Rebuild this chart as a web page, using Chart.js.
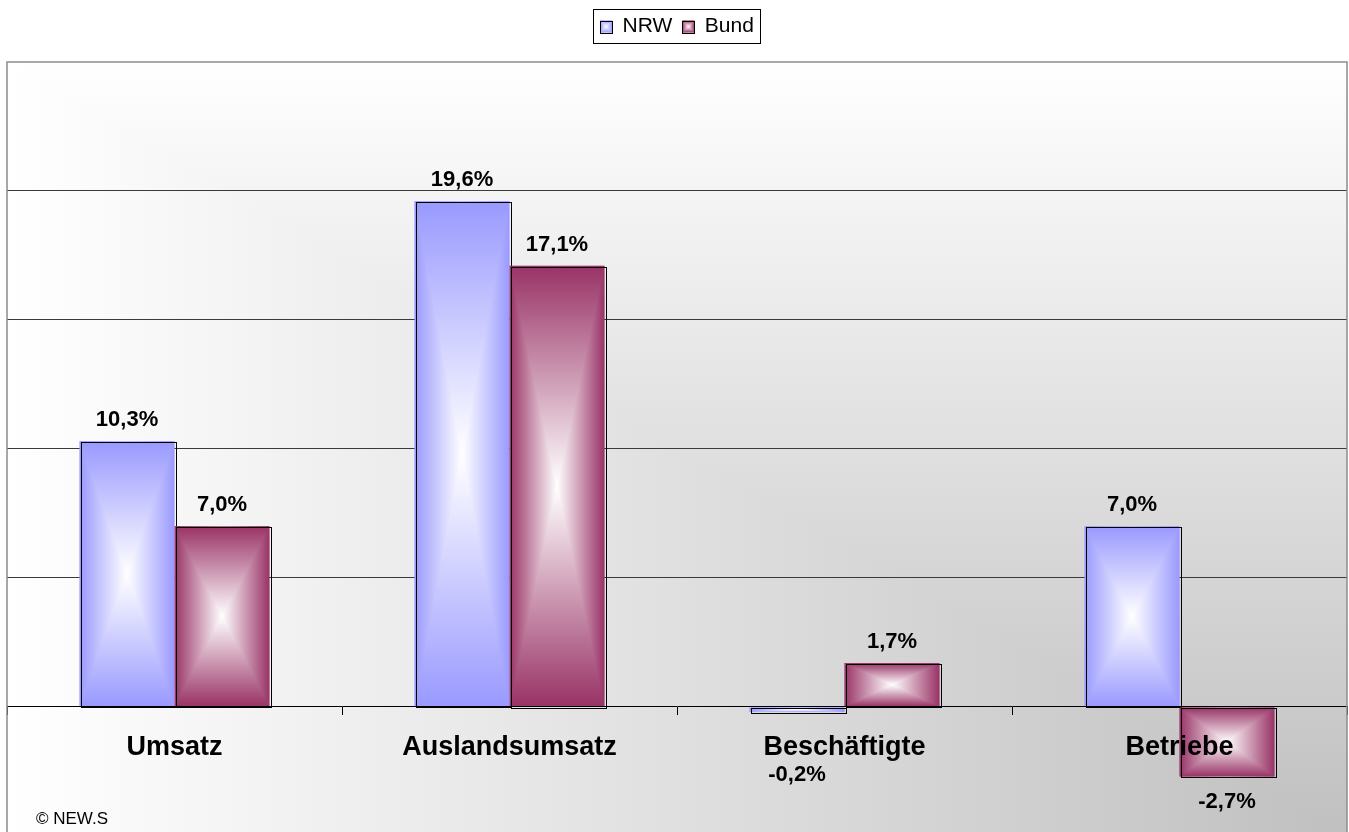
<!DOCTYPE html>
<html><head><meta charset="utf-8">
<script src="https://cdn.jsdelivr.net/npm/chart.js@4.4.1/dist/chart.umd.min.js"></script>
<style>html,body{margin:0;padding:0;background:#fff;overflow:hidden}#wrap{width:1349px;height:832px;position:relative}</style>
</head><body><div id="wrap"><canvas id="c"></canvas></div>
<script>
const categories = ['Umsatz', 'Auslandsumsatz', 'Beschäftigte', 'Betriebe'];
const seriesNames = ['NRW', 'Bund'];
const nrwValues = [10.3, 19.6, -0.2, 7.0];
const bundValues = [7.0, 17.1, 1.7, -2.7];
const yTickValues = [0, 5, 10, 15, 20, 25];
const sourceNote = '© NEW.S';

const seriesColors = ['#9999ff', '#993366'];
const FONT = 'Arial, "Liberation Sans", Helvetica, sans-serif';

function fmt(v) { return v.toFixed(1).replace('.', ',') + '%'; }

function fillTri(ctx, pts, g) {
  ctx.beginPath();
  ctx.moveTo(pts[0][0], pts[0][1]);
  ctx.lineTo(pts[1][0], pts[1][1]);
  ctx.lineTo(pts[2][0], pts[2][1]);
  ctx.closePath();
  ctx.fillStyle = g;
  ctx.fill();
}

function rectGradient(ctx, L, T, R, B, edge, center) {
  const cx = (L + R) / 2, cy = (T + B) / 2;
  ctx.save();
  ctx.beginPath(); ctx.rect(L, T, R - L, B - T); ctx.clip();
  // base: horizontal edge-center-edge
  let g = ctx.createLinearGradient(L, 0, R, 0);
  g.addColorStop(0, edge); g.addColorStop(0.5, center); g.addColorStop(1, edge);
  ctx.fillStyle = g; ctx.fillRect(L, T, R - L, B - T);
  // top and bottom triangles: vertical
  g = ctx.createLinearGradient(0, T, 0, B);
  g.addColorStop(0, edge); g.addColorStop(0.5, center); g.addColorStop(1, edge);
  fillTri(ctx, [[L, T], [R, T], [cx, cy]], g);
  fillTri(ctx, [[L, B], [R, B], [cx, cy]], g);
  ctx.restore();
}

const deco = {
  id: 'deco',
  beforeInit(chart) {
    const lg = chart.legend;
    if (lg) {
      const orig = lg.fit.bind(lg);
      lg.fit = function () { orig(); this.height += 15; };
    }
  },
  beforeDraw(chart) {
    const {ctx, chartArea: a} = chart;
    const L = a.left, T = a.top, R = a.right, B = a.bottom + 4;
    ctx.save();
    let g = ctx.createLinearGradient(L, 0, R, 0);
    g.addColorStop(0, '#ffffff'); g.addColorStop(1, '#c0c0c0');
    ctx.fillStyle = g; ctx.fillRect(L, T, R - L, B - T);
    g = ctx.createLinearGradient(0, T, 0, B);
    g.addColorStop(0, '#ffffff'); g.addColorStop(1, '#c0c0c0');
    fillTri(ctx, [[L, T], [R, T], [R, B]], g);
    ctx.restore();
  },
  afterDatasetsDraw(chart) {
    const ctx = chart.ctx;
    chart.data.datasets.forEach((ds, di) => {
      const meta = chart.getDatasetMeta(di);
      meta.data.forEach(el => {
        const p = el.getProps(['x', 'y', 'base', 'width'], true);
        const L = p.x - p.width / 2, R = p.x + p.width / 2;
        const T = Math.min(p.y, p.base), B = Math.max(p.y, p.base);
        rectGradient(ctx, L, T, R, B, seriesColors[di], '#ffffff');
        ctx.save();
        ctx.strokeStyle = '#000'; ctx.lineWidth = 1;
        ctx.strokeRect(Math.round(L) + 1.5, Math.round(T) + 1.5, Math.round(R - L), Math.round(B - T));
        ctx.restore();
      });
    });
  },
  afterDraw(chart) {
    const {ctx, chartArea: a} = chart;
    const yScale = chart.scales.y;
    const zeroY = yScale.getPixelForValue(0);
    ctx.save();
    // plot border
    ctx.strokeStyle = '#8c8c8c'; ctx.lineWidth = 1.5;
    ctx.strokeRect(a.left, a.top, a.right - a.left, a.bottom - a.top + 4);
    // data labels
    ctx.fillStyle = '#000';
    ctx.font = 'bold 22px ' + FONT;
    ctx.textAlign = 'center';
    chart.data.datasets.forEach((ds, di) => {
      const meta = chart.getDatasetMeta(di);
      meta.data.forEach((el, i) => {
        const v = ds.data[i];
        const p = el.getProps(['x', 'y', 'base'], true);
        if (v >= 0) {
          ctx.textBaseline = 'alphabetic';
          ctx.fillText(fmt(v), p.x, p.y - 15);
        } else {
          ctx.textBaseline = 'top';
          const top = Math.max(p.y + 14, zeroY + 57);
          ctx.fillText(fmt(v), p.x, top);
        }
      });
    });
    // legend frame + boxes
    const lg = chart.legend;
    if (lg && lg.legendHitBoxes && lg.legendHitBoxes.length) {
      const hb = lg.legendHitBoxes;
      const boxW = 12, boxH = 12, itemH = 21;
      hb.forEach((h, i) => {
        const bx = h.left, by = h.top + (itemH - boxH) / 2;
        rectGradient(ctx, bx, by, bx + boxW, by + boxH, seriesColors[i], '#ffffff');
        ctx.strokeStyle = '#000'; ctx.lineWidth = 1;
        ctx.strokeRect(Math.round(bx) + 0.5, Math.round(by) + 0.5, boxW, boxH);
      });
      const l = Math.min(...hb.map(h => h.left)) - 7;
      const r = Math.max(...hb.map(h => h.left + h.width)) + 6;
      const t = hb[0].top - 7, b = hb[0].top + hb[0].height + 6;
      ctx.strokeStyle = '#000'; ctx.lineWidth = 1;
      ctx.strokeRect(Math.round(l) + 0.5, Math.round(t) + 0.5, Math.round(r - l), Math.round(b - t));
    }
    // source note
    ctx.font = '17px ' + FONT;
    ctx.textAlign = 'left'; ctx.textBaseline = 'alphabetic';
    ctx.fillText(sourceNote, 36, 824);
    ctx.restore();
  }
};

new Chart(document.getElementById('c'), {
  type: 'bar',
  data: {
    labels: categories,
    datasets: [
      {label: seriesNames[0], data: nrwValues, backgroundColor: seriesColors[0], borderWidth: 0},
      {label: seriesNames[1], data: bundValues, backgroundColor: seriesColors[1], borderWidth: 0}
    ]
  },
  options: {
    responsive: true,
    maintainAspectRatio: false,
    animation: false,
    events: [],
    categoryPercentage: 0.567,
    barPercentage: 1.0,
    layout: {padding: {left: 7, right: 2, top: 6, bottom: 0}},
    plugins: {
      tooltip: {enabled: false},
      legend: {
        display: true,
        position: 'top',
        labels: {
          color: '#000',
          font: {family: FONT, size: 21},
          boxWidth: 12, boxHeight: 12,
          padding: 10
        }
      }
    },
    scales: {
      x: {
        position: {y: 0},
        offset: true,
        z: 1,
        grid: {display: true, offset: true, drawOnChartArea: false, drawTicks: true, tickLength: 8, color: '#000', z: 1},
        border: {display: true, color: '#000', width: 1, z: 1},
        ticks: {color: '#000', font: {family: FONT, size: 27, weight: 'bold'}, padding: 16, maxRotation: 0, autoSkip: false, z: 1}
      },
      y: {
        min: -4.85,
        max: 25,
        afterBuildTicks(scale) { scale.ticks = yTickValues.map(v => ({value: v})); },
        ticks: {display: false},
        border: {display: false},
        grid: {
          drawTicks: false,
          color: c => (c.tick && (c.tick.value === 0 || c.tick.value === 25)) ? 'rgba(0,0,0,0)' : '#3a3a3a',
          lineWidth: 1
        }
      }
    }
  },
  plugins: [deco]
});
</script>
</body></html>
